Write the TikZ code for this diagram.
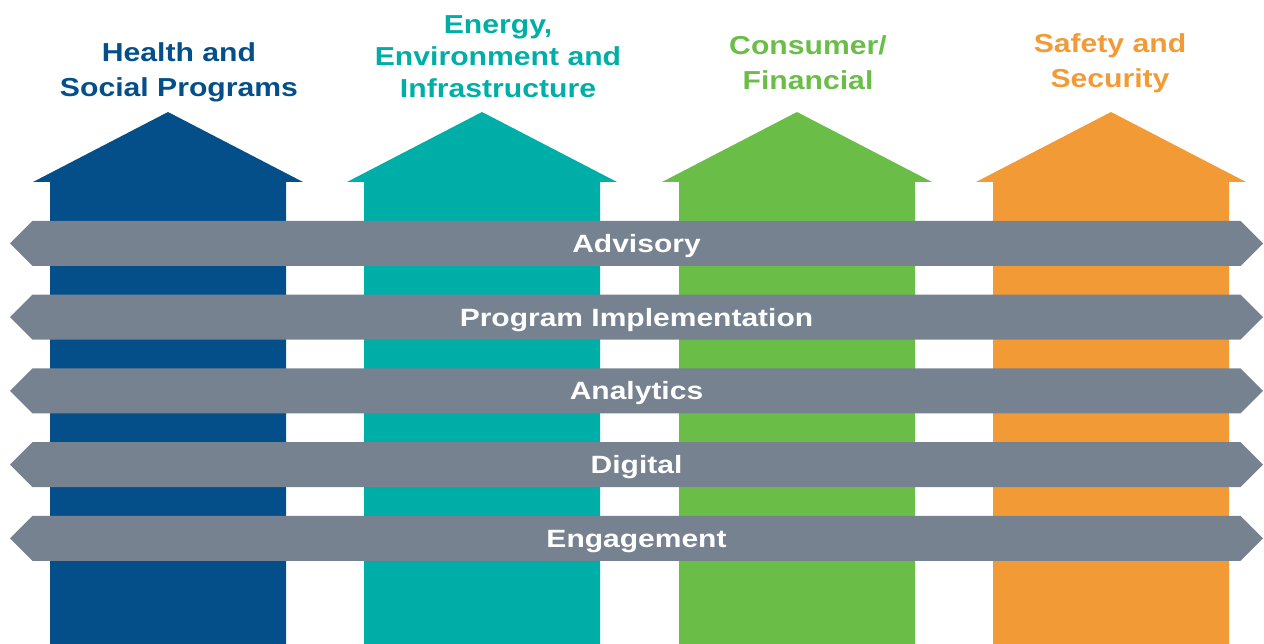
\documentclass[tikz,border=0pt]{standalone}
\usepackage{fontspec}
\setmainfont{Liberation Sans}
\newfontfamily\headfont[FakeStretch=1.16]{Liberation Sans}
\newfontfamily\bandfont[FakeStretch=1.2]{Liberation Sans}
\definecolor{healthblue}{RGB}{4,79,138}
\definecolor{energyteal}{RGB}{0,174,168}
\definecolor{consumergreen}{RGB}{106,190,72}
\definecolor{safetyorange}{RGB}{242,155,54}
\definecolor{bandgray}{RGB}{118,130,143}

\begin{document}
\begin{tikzpicture}[x=1pt,y=-1pt,head/.style={font={\headfont\bfseries\fontsize{26}{35}\selectfont},align=center,anchor=north,inner sep=0pt},band/.style={fill=bandgray},bandlabel/.style={font={\bandfont\bfseries\fontsize{25}{30}\selectfont},text=white,inner sep=0pt,text height=17.9pt,text depth=0pt}]
\useasboundingbox (0,0) rectangle (1264,644);
\foreach \cx/\c in {168/healthblue,482/energyteal,797/consumergreen,1111/safetyorange} {
   \fill[\c] (\cx-118,644) -- (\cx-118,182) -- (\cx-135,182) -- (\cx,112) -- (\cx+135,182) -- (\cx+118,182) -- (\cx+118,644) -- cycle;
}
\node[head,text=healthblue] (health) at (179,42) {Health and\\Social Programs};
\node[head,text=energyteal,font={\headfont\bfseries\fontsize{26}{32}\selectfont}] (energy) at (498,15) {Energy,\\Environment and\\Infrastructure};
\node[head,text=consumergreen] (consumer) at (808,35) {Consumer/\\Financial};
\node[head,text=safetyorange] (safety) at (1110,33) {Safety and\\Security};

\foreach \y/\n/\t in {243.5/advisory/Advisory,317.2/implementation/Program Implementation,390.9/analytics/Analytics,464.6/digital/Digital,538.3/engagement/Engagement} {
  \fill[band] (10,\y) -- (32.5,\y-22.5) -- (1240.5,\y-22.5) -- (1263,\y) -- (1240.5,\y+22.5) -- (32.5,\y+22.5) -- cycle;
  \node[bandlabel] (\n) at (636.5,\y) {\t};
}
\end{tikzpicture}
\end{document}
